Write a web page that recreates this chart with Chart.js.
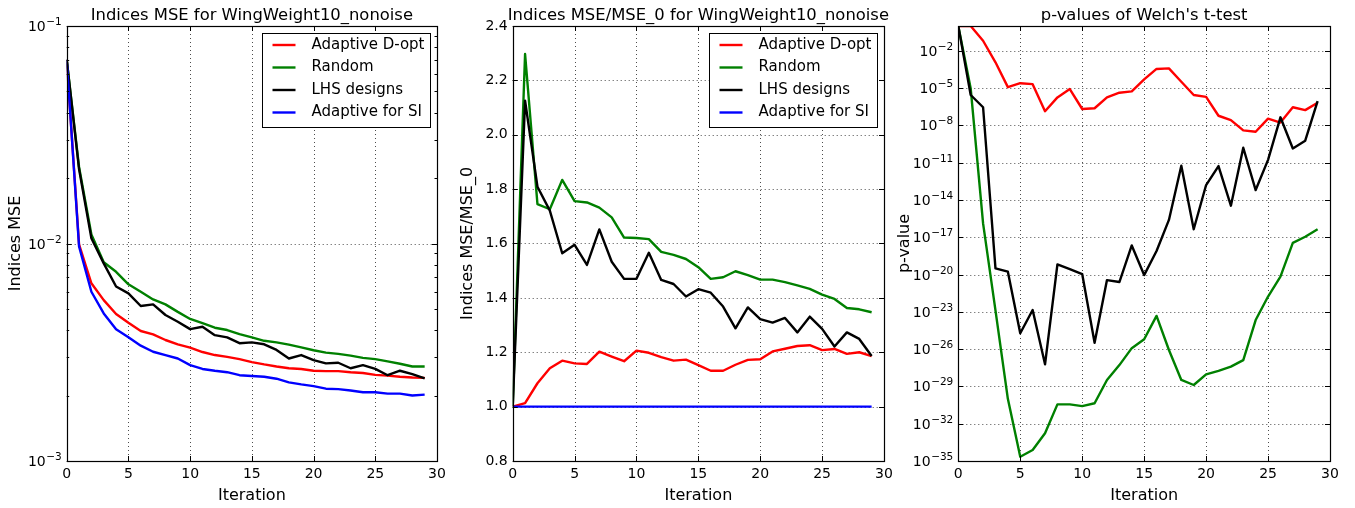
<!DOCTYPE html>
<html>
<head>
<meta charset="utf-8">
<script src="https://cdn.jsdelivr.net/npm/chart.js@4.4.0/dist/chart.umd.min.js"></script>
<style>
  body { margin: 0; background: #fff; width: 1355px; height: 508px; position: relative; overflow: hidden; }
  canvas { position: absolute; top: 0; }
</style>
</head>
<body>
<canvas id="mseChart" width="452" height="508" style="left:0px"></canvas>
<canvas id="ratioChart" width="447" height="508" style="left:452px"></canvas>
<canvas id="pvalChart" width="465" height="508" style="left:890px"></canvas>
<script>
const iterations = [0,1,2,3,4,5,6,7,8,9,10,11,12,13,14,15,16,17,18,19,20,21,22,23,24,25,26,27,28,29];
const seriesNames = ["Adaptive D-opt", "Random", "LHS designs", "Adaptive for SI"];
const seriesColors = ["#ff0000", "#008000", "#000000", "#0000ff"];
const iterTicks = [0, 5, 10, 15, 20, 25, 30];

// panel 1 - Indices MSE
const mseDopt = [0.070, 0.0099, 0.00656, 0.00549, 0.00474, 0.00432, 0.00396, 0.00382, 0.00360, 0.00344, 0.00332, 0.00317, 0.00307, 0.00301, 0.00294, 0.00285, 0.00278, 0.00272, 0.00267, 0.00265, 0.00260, 0.00259, 0.00259, 0.00256, 0.00254, 0.00249, 0.00247, 0.00244, 0.00242, 0.00241];
const mseRandom = [0.070, 0.0225, 0.0110, 0.0082, 0.00741, 0.00649, 0.00600, 0.00553, 0.00525, 0.00485, 0.00450, 0.00430, 0.00410, 0.00400, 0.00383, 0.00370, 0.00357, 0.00351, 0.00343, 0.00333, 0.00323, 0.00315, 0.00311, 0.00305, 0.00298, 0.00294, 0.00287, 0.00280, 0.00272, 0.00272];
const mseLhs = [0.070, 0.022, 0.01057, 0.0081, 0.00634, 0.0059, 0.00516, 0.00525, 0.00469, 0.00437, 0.00404, 0.00414, 0.00379, 0.00370, 0.00348, 0.00351, 0.00344, 0.00324, 0.00296, 0.00307, 0.00291, 0.00281, 0.00283, 0.00267, 0.00276, 0.00265, 0.00248, 0.00260, 0.00251, 0.00240];
const mseSI = [0.070, 0.0097, 0.0060, 0.00477, 0.00403, 0.00371, 0.00339, 0.00318, 0.00307, 0.00296, 0.00276, 0.00265, 0.00260, 0.00256, 0.00248, 0.00246, 0.00244, 0.00239, 0.00230, 0.00225, 0.00221, 0.00215, 0.00214, 0.00211, 0.00207, 0.00207, 0.00204, 0.00204, 0.00200, 0.00202];
const mseTicks = [1e-3, 1e-2, 1e-1];

// panel 2 - Indices MSE/MSE_0
const ratioDopt = [1.0, 1.013, 1.086, 1.141, 1.169, 1.159, 1.157, 1.202, 1.184, 1.167, 1.206, 1.198, 1.182, 1.169, 1.173, 1.153, 1.132, 1.132, 1.154, 1.172, 1.174, 1.203, 1.213, 1.223, 1.226, 1.208, 1.212, 1.194, 1.200, 1.186];
const ratioRandom = [1.0, 2.297, 1.745, 1.726, 1.834, 1.756, 1.751, 1.732, 1.696, 1.622, 1.620, 1.616, 1.569, 1.558, 1.543, 1.513, 1.470, 1.476, 1.498, 1.484, 1.467, 1.467, 1.458, 1.446, 1.433, 1.412, 1.396, 1.363, 1.358, 1.347];
const ratioLhs = [1.0, 2.125, 1.809, 1.721, 1.564, 1.595, 1.521, 1.652, 1.533, 1.470, 1.470, 1.566, 1.466, 1.451, 1.405, 1.432, 1.419, 1.368, 1.288, 1.365, 1.322, 1.309, 1.326, 1.273, 1.331, 1.286, 1.221, 1.273, 1.249, 1.186];
const ratioSI = [1.0, 1.0, 1.0, 1.0, 1.0, 1.0, 1.0, 1.0, 1.0, 1.0, 1.0, 1.0, 1.0, 1.0, 1.0, 1.0, 1.0, 1.0, 1.0, 1.0, 1.0, 1.0, 1.0, 1.0, 1.0, 1.0, 1.0, 1.0, 1.0, 1.0];
const ratioTicks = [0.8, 1.0, 1.2, 1.4, 1.6, 1.8, 2.0, 2.2, 2.4];

// panel 3 - p-values of Welch's t-test
const pDopt = [1, 1, 6.5e-2, 1.2e-3, 1.2e-5, 2.5e-5, 2.1e-5, 1.4e-7, 1.8e-6, 8.5e-6, 2.1e-7, 2.4e-7, 1.8e-6, 4.3e-6, 5.5e-6, 5.1e-5, 3.5e-4, 3.9e-4, 3.3e-5, 2.8e-6, 2.0e-6, 6.0e-8, 2.7e-8, 4.0e-9, 3.1e-9, 3.5e-8, 1.7e-8, 2.9e-7, 1.7e-7, 6.8e-7];
const pRandom = [1, 9.5e-6, 1.3e-16, 1.3e-23, 1.0e-30, 2.2e-35, 7.6e-35, 1.7e-33, 3.6e-31, 3.6e-31, 2.6e-31, 4.4e-31, 3.3e-29, 5.2e-28, 1.2e-26, 6.2e-26, 4.7e-24, 8.5e-27, 3.3e-29, 1.3e-29, 9.3e-29, 1.8e-28, 3.9e-28, 1.3e-27, 2.2e-24, 1.7e-22, 6.8e-21, 3.6e-18, 1.1e-17, 4.4e-17];
const pLhs = [1, 2.8e-6, 2.9e-7, 3.2e-20, 1.7e-20, 1.9e-25, 1.4e-23, 6.0e-28, 6.6e-20, 2.8e-20, 1.1e-20, 3.3e-26, 3.6e-21, 2.5e-21, 2.2e-18, 9.1e-21, 7.9e-19, 2.5e-16, 5.8e-12, 4.4e-17, 1.6e-13, 5.4e-12, 3.5e-15, 1.6e-10, 6.3e-14, 1.7e-11, 4.5e-8, 1.4e-10, 5.9e-10, 9.1e-7];
const pTicks = [1e-35, 1e-32, 1e-29, 1e-26, 1e-23, 1e-20, 1e-17, 1e-14, 1e-11, 1e-8, 1e-5, 1e-2];

const FONT = "'DejaVu Sans', sans-serif";

function makeSet(i, values) {
  return {
    label: seriesNames[i],
    data: iterations.map((it, k) => ({ x: it, y: values[k] })),
    borderColor: seriesColors[i],
    borderWidth: 2.4,
    pointRadius: 0,
    tension: 0,
    fill: false,
    borderJoinStyle: "round",
    order: 4 - i
  };
}

// matplotlib-ish frame, dotted grid, inward ticks, legend and title
const mplAxes = {
  id: "mplAxes",
  beforeDatasetsDraw(chart, args, opts) {
    const { ctx, chartArea: a } = chart;
    const xs = chart.scales.x, ys = chart.scales.y;
    ctx.save();
    ctx.strokeStyle = "rgba(0,0,0,0.7)";
    ctx.lineWidth = 1;
    ctx.setLineDash([1, 3]);
    xs.ticks.forEach(t => {
      const px = Math.round(xs.getPixelForValue(t.value)) + 0.5;
      if (px <= a.left + 1 || px >= a.right - 1) return;
      ctx.beginPath(); ctx.moveTo(px, a.top); ctx.lineTo(px, a.bottom); ctx.stroke();
    });
    ys.ticks.forEach(t => {
      const py = Math.round(ys.getPixelForValue(t.value)) + 0.5;
      if (py <= a.top + 1 || py >= a.bottom - 1) return;
      ctx.beginPath(); ctx.moveTo(a.left, py); ctx.lineTo(a.right, py); ctx.stroke();
    });
    ctx.restore();
  },
  afterDatasetsDraw(chart, args, opts) {
    const { ctx, chartArea: a } = chart;
    const xs = chart.scales.x, ys = chart.scales.y;
    ctx.save();
    ctx.strokeStyle = "#000";
    ctx.lineWidth = 1;
    // ticks pointing in
    ctx.beginPath();
    xs.ticks.forEach(t => {
      const px = Math.round(xs.getPixelForValue(t.value)) + 0.5;
      ctx.moveTo(px, a.bottom); ctx.lineTo(px, a.bottom - 5);
      ctx.moveTo(px, a.top); ctx.lineTo(px, a.top + 5);
    });
    ys.ticks.forEach(t => {
      const py = Math.round(ys.getPixelForValue(t.value)) + 0.5;
      ctx.moveTo(a.left, py); ctx.lineTo(a.left + 5, py);
      ctx.moveTo(a.right, py); ctx.lineTo(a.right - 5, py);
    });
    if (opts.minor) {
      for (let k = -3; k < -1; k++) {
        for (let m = 2; m <= 9; m++) {
          const py = Math.round(ys.getPixelForValue(m * Math.pow(10, k))) + 0.5;
          ctx.moveTo(a.left, py); ctx.lineTo(a.left + 2.5, py);
          ctx.moveTo(a.right, py); ctx.lineTo(a.right - 2.5, py);
        }
      }
    }
    ctx.stroke();
    // frame
    ctx.lineWidth = 1.2;
    ctx.strokeRect(Math.round(a.left) + 0.5, Math.round(a.top) + 0.5, Math.round(a.right - a.left), Math.round(a.bottom - a.top));

    // power-of-ten tick labels (10 with raised exponent, like mathtext)
    if (opts.powLabels) {
      ctx.fillStyle = "#000";
      ctx.textAlign = "right";
      ctx.textBaseline = "alphabetic";
      ys.ticks.forEach(t => {
        const py = ys.getPixelForValue(t.value);
        const exp = String(Math.round(Math.log10(t.value))).replace("-", "\u2212");
        ctx.font = "10.5px " + FONT;
        const ew = ctx.measureText(exp).width;
        const right = a.left - 5;
        ctx.fillText(exp, right, py - 1);
        ctx.font = "14px " + FONT;
        ctx.fillText("10", right - ew - 0.5, py + 5);
      });
    }

    // legend
    if (opts.legend) {
      const w = 168, h = 94;
      const bx = Math.round(a.right - 7 - w) + 0.5, by = Math.round(a.top + 7) + 0.5;
      ctx.fillStyle = "#fff";
      ctx.fillRect(bx, by, w, h);
      ctx.lineWidth = 1;
      ctx.strokeStyle = "#000";
      ctx.strokeRect(bx, by, w, h);
      ctx.font = "15px " + FONT;
      ctx.textBaseline = "middle";
      ctx.textAlign = "left";
      seriesNames.forEach((name, i) => {
        const ry = by + 11.5 + i * 22.5;
        ctx.strokeStyle = seriesColors[i];
        ctx.lineWidth = 2.4;
        ctx.beginPath(); ctx.moveTo(bx + 10, ry); ctx.lineTo(bx + 33, ry); ctx.stroke();
        ctx.fillStyle = "#000";
        ctx.fillText(name, bx + 49, ry);
      });
    }

    // title
    ctx.font = "16.4px " + FONT;
    ctx.fillStyle = "#000";
    ctx.textAlign = "center";
    ctx.textBaseline = "alphabetic";
    ctx.fillText(opts.title, (a.left + a.right) / 2, 19.5);
    ctx.restore();
  }
};

function makeChart(id, cfg) {
  const yScale = Object.assign({
    ticks: { display: !cfg.powLabels, font: { family: FONT, size: 14 }, color: "#000", padding: 5, autoSkip: false, callback: cfg.yLabel },
    grid: { display: false, drawTicks: false },
    border: { display: false },
    title: { display: true, text: cfg.yTitle, color: "#000", font: { family: FONT, size: 16 }, padding: { top: cfg.yTitlePad, bottom: 0 } },
    afterBuildTicks: s => { s.ticks = cfg.yTicks.map(v => ({ value: v })); },
    afterFit: s => { s.width = cfg.yWidth; }
  }, cfg.yScale);

  return new Chart(document.getElementById(id), {
    type: "line",
    data: { datasets: cfg.datasets },
    options: {
      responsive: false,
      animation: false,
      events: [],
      layout: { padding: { top: 26, right: cfg.right, left: 0, bottom: 0 } },
      scales: {
        x: {
          type: "linear",
          min: 0,
          max: 30,
          ticks: { font: { family: FONT, size: 14 }, color: "#000", padding: 5, maxRotation: 0, autoSkip: false },
          grid: { display: false, drawTicks: false },
          border: { display: false },
          title: { display: true, text: "Iteration", color: "#000", font: { family: FONT, size: 16 }, padding: { top: 0, bottom: 3 } },
          afterBuildTicks: s => { s.ticks = iterTicks.map(v => ({ value: v })); },
          afterFit: s => { s.height = 47; }
        },
        y: yScale
      },
      plugins: {
        legend: { display: false },
        tooltip: { enabled: false },
        mplAxes: { title: cfg.title, legend: cfg.legend, minor: cfg.minor, powLabels: cfg.powLabels }
      }
    },
    plugins: [mplAxes]
  });
}

makeChart("mseChart", {
  title: "Indices MSE for WingWeight10_nonoise",
  yTitle: "Indices MSE",
  yTitlePad: 6.4,
  yWidth: 66.7,
  right: 15,
  legend: true,
  minor: true,
  powLabels: true,
  yTicks: mseTicks,
  yLabel: v => String(v),
  yScale: { type: "logarithmic", min: 1e-3, max: 1e-1 },
  datasets: [makeSet(0, mseDopt), makeSet(1, mseRandom), makeSet(2, mseLhs), makeSet(3, mseSI)]
});

makeChart("ratioChart", {
  title: "Indices MSE/MSE_0 for WingWeight10_nonoise",
  yTitle: "Indices MSE/MSE_0",
  yTitlePad: 5.9,
  yWidth: 60.7,
  right: 15,
  legend: true,
  minor: false,
  powLabels: false,
  yTicks: ratioTicks,
  yLabel: v => v.toFixed(1),
  yScale: { type: "linear", min: 0.8, max: 2.4 },
  datasets: [makeSet(0, ratioDopt), makeSet(1, ratioRandom), makeSet(2, ratioLhs), makeSet(3, ratioSI)]
});

makeChart("pvalChart", {
  title: "p-values of Welch's t-test",
  yTitle: "p-value",
  yTitlePad: 5.4,
  yWidth: 68.3,
  right: 25,
  legend: false,
  minor: false,
  powLabels: true,
  yTicks: pTicks,
  yLabel: v => String(v),
  yScale: { type: "logarithmic", min: 1e-35, max: 1 },
  datasets: [makeSet(0, pDopt), makeSet(1, pRandom), makeSet(2, pLhs)]
});
</script>
</body>
</html>
